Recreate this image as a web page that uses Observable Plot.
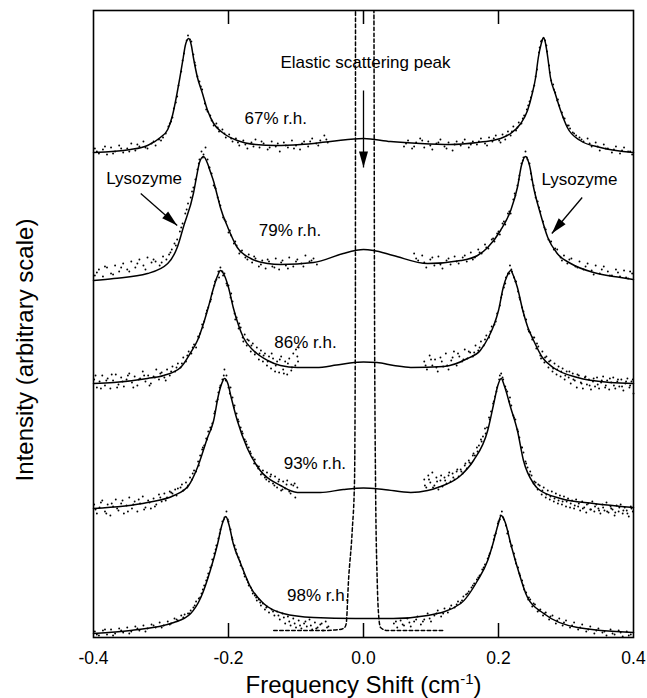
<!DOCTYPE html>
<html><head><meta charset="utf-8">
<script src="https://cdn.jsdelivr.net/npm/d3@7"></script>
<script src="https://cdn.jsdelivr.net/npm/@observablehq/plot@0.6"></script>
<style>body{margin:0;background:#fff}</style>
</head><body><div id="chart"></div>
<script>
// ---- axis values ----
const xTicks = [-0.4, -0.2, 0, 0.2, 0.4];
const innerTicks = [-0.2, 0, 0.2];
const xDomain = [-0.4, 0.4];
const yDomain = [0, 627];

// ---- fitted curves [shift, intensity] ----
const fit67 = [[-0.400,485],[-0.345,488],[-0.320,492],[-0.301,500],[-0.290,508],[-0.283,522],[-0.276,545],[-0.272,560],[-0.267,580],[-0.264,592],[-0.259,599],[-0.255,592],[-0.252,580],[-0.246,560],[-0.239,545],[-0.231,527],[-0.222,514],[-0.209,505],[-0.187,497],[-0.160,493],[-0.130,492],[-0.093,493],[-0.049,496],[0,499],[0.040,496],[0.084,494],[0.129,493],[0.169,495],[0.190,497],[0.203,499],[0.218,504],[0.233,514],[0.243,527],[0.250,544],[0.255,560],[0.259,580],[0.263,593],[0.267,600],[0.270,593],[0.273,580],[0.277,560],[0.284,544],[0.292,527],[0.302,510],[0.321,497],[0.351,490],[0.400,485]];
const fit79 = [[-0.400,357],[-0.370,359],[-0.320,364],[-0.290,374],[-0.276,390],[-0.267,410],[-0.252,444],[-0.247,462],[-0.243,475],[-0.237,481],[-0.231,474],[-0.227,466],[-0.222,456],[-0.217,443],[-0.212,430],[-0.201,410],[-0.187,390],[-0.167,379],[-0.142,374],[-0.123,373],[-0.074,375],[-0.030,384],[-0.012,387],[0,388],[0.015,387],[0.044,382],[0.095,374],[0.144,377],[0.169,382],[0.184,390],[0.203,407],[0.218,427],[0.228,450],[0.234,472],[0.240,481],[0.246,472],[0.252,450],[0.262,424],[0.273,400],[0.287,384],[0.307,374],[0.341,365],[0.381,360],[0.400,358]];
const fit86 = [[-0.400,254],[-0.370,255],[-0.320,259],[-0.296,262],[-0.271,270],[-0.256,285],[-0.246,297],[-0.237,314],[-0.230,330],[-0.222,350],[-0.216,362],[-0.212,367],[-0.206,362],[-0.200,350],[-0.193,330],[-0.185,312],[-0.178,300],[-0.163,287],[-0.142,277],[-0.123,272],[-0.098,270],[-0.070,270],[-0.040,272.5],[-0.020,274.5],[0,275.5],[0.020,275],[0.045,272],[0.070,270],[0.119,271],[0.154,279],[0.173,287],[0.185,300],[0.193,312],[0.200,327],[0.207,350],[0.213,362],[0.218,367],[0.222,362],[0.228,350],[0.236,327],[0.243,311],[0.252,297],[0.265,280],[0.281,270],[0.317,260],[0.366,255],[0.400,254]];
const fit93 = [[-0.400,129],[-0.320,135],[-0.281,142],[-0.259,152],[-0.246,170],[-0.231,200],[-0.222,217],[-0.215,242],[-0.210,254],[-0.206,259],[-0.201,254],[-0.196,240],[-0.187,217],[-0.172,189],[-0.153,167],[-0.123,152],[-0.098,145],[-0.064,145],[-0.030,148],[0,149.5],[0.030,148],[0.070,145],[0.095,147],[0.110,150],[0.144,162],[0.163,177],[0.184,207],[0.193,234],[0.199,252],[0.204,259],[0.209,251],[0.218,230],[0.228,207],[0.237,177],[0.252,154],[0.258,149],[0.292,139],[0.341,134],[0.400,130]];
const fit98 = [[-0.400,4],[-0.345,7],[-0.281,15],[-0.256,24],[-0.241,40],[-0.227,67],[-0.216,94],[-0.210,112],[-0.204,121],[-0.199,112],[-0.193,94],[-0.182,74],[-0.167,50],[-0.148,34],[-0.119,24],[-0.074,20],[-0.012,19],[0,19],[0.044,19],[0.095,22],[0.144,34],[0.169,57],[0.184,77],[0.191,92],[0.199,112],[0.204,122],[0.210,115],[0.218,94],[0.228,70],[0.243,40],[0.267,24],[0.317,10],[0.400,5]];
const elastic = [[-0.133,7],[-0.10,7],[-0.06,7],[-0.035,8],[-0.028,10],[-0.0256,14],[-0.0222,57],[-0.0167,107],[-0.0133,157],[-0.0120,337],[-0.0118,640],[0.0153,640],[0.0163,337],[0.0178,157],[0.0203,57],[0.0227,20],[0.0252,10],[0.035,7],[0.08,7],[0.1185,7]];

// ---- measured points (flat: shift, intensity, ...) ----
const dots67 = [-0.398,489,-0.392,484,-0.386,488,-0.380,483,-0.374,490,-0.368,486,-0.362,492,-0.356,485,-0.350,489,-0.344,494,-0.338,487,-0.332,491,-0.326,496,-0.320,489,-0.314,494,-0.308,492,-0.303,498,-0.297,500,-0.293,504,-0.289,511,-0.285,516,-0.281,529,-0.278,535,-0.274,552,-0.270,566,-0.266,584,-0.262,597,-0.260,602,-0.257,598,-0.255,596,-0.252,583,-0.249,572,-0.246,561,-0.243,556,-0.239,548,-0.235,534,-0.231,526,-0.227,522,-0.222,512,-0.218,514,-0.214,506,-0.209,508,-0.204,500,-0.199,503,-0.194,496,-0.189,499,-0.184,492,-0.178,497,-0.172,489,-0.166,495,-0.160,498,-0.154,490,-0.148,494,-0.142,488,-0.136,496,-0.130,491,-0.124,486,-0.118,495,-0.112,490,-0.106,497,-0.100,492,-0.094,488,-0.088,496,-0.082,491,-0.076,499,-0.070,494,-0.064,497,-0.058,502,-0.053,495,
0.060,491,0.066,497,0.072,489,0.078,495,0.084,499,0.090,490,0.096,496,0.102,488,0.108,494,0.114,498,0.120,491,0.126,495,0.132,487,0.138,496,0.144,492,0.150,498,0.156,490,0.162,496,0.168,493,0.174,499,0.180,494,0.186,500,0.191,496,0.196,502,0.201,497,0.206,503,0.210,498,0.214,506,0.218,502,0.222,511,0.226,507,0.230,515,0.234,514,0.238,522,0.242,528,0.246,536,0.250,546,0.253,552,0.257,568,0.260,585,0.263,596,0.266,599,0.269,597,0.272,586,0.275,572,0.278,557,0.281,553,0.284,545,0.287,537,0.290,532,0.294,525,0.298,519,0.302,512,0.306,509,0.310,505,0.315,502,0.320,500,0.326,496,0.332,499,0.338,491,0.344,495,0.350,487,0.356,493,0.362,489,0.368,485,0.374,491,0.380,484,0.386,490,0.392,486,0.398,483];
const dots67b = [-0.395,486,-0.383,491,-0.371,484,-0.359,489,-0.347,486,-0.335,493,-0.323,490,-0.311,496,-0.300,497,-0.287,514,-0.283,520,-0.276,541,-0.268,577,-0.250,575,-0.241,551,-0.233,528,-0.225,517,-0.216,510,-0.206,504,-0.196,499,-0.186,495,-0.175,493,-0.163,491,-0.151,496,-0.139,490,-0.127,494,-0.115,492,-0.103,489,-0.091,494,-0.079,496,-0.067,492,-0.055,498,
0.063,494,0.075,491,0.087,497,0.099,492,0.111,495,0.123,489,0.135,493,0.147,495,0.159,493,0.171,496,0.183,492,0.193,499,0.203,495,0.212,502,0.220,506,0.228,510,0.236,519,0.244,532,0.248,540,0.255,561,0.261,590,0.264,597,0.271,592,0.276,565,0.282,548,0.288,538,0.296,520,0.304,512,0.312,504,0.323,498,0.335,494,0.347,491,0.359,489,0.371,488,0.383,487,0.395,486];
const dots79 = [-0.398,362,-0.392,368,-0.386,361,-0.380,370,-0.374,364,-0.368,372,-0.362,366,-0.356,374,-0.350,368,-0.344,376,-0.338,370,-0.332,378,-0.326,372,-0.320,380,-0.314,375,-0.308,376,-0.302,372,-0.297,381,-0.292,378,-0.288,383,-0.284,388,-0.280,394,-0.276,398,-0.272,406,-0.268,414,-0.264,424,-0.260,434,-0.256,440,-0.252,450,-0.249,458,-0.246,468,-0.243,478,-0.240,486,-0.237,483,-0.234,490,-0.231,478,-0.228,470,-0.225,464,-0.222,452,-0.219,449,-0.216,440,-0.212,432,-0.208,420,-0.204,416,-0.200,405,-0.196,402,-0.192,394,-0.188,392,-0.184,384,-0.180,387,-0.175,380,-0.170,383,-0.165,375,-0.160,379,-0.155,371,-0.150,377,-0.145,369,-0.140,376,-0.135,371,-0.130,379,-0.125,368,-0.120,377,-0.115,372,-0.110,380,-0.104,371,-0.098,378,-0.092,374,-0.086,382,-0.080,376,-0.074,379,-0.069,373,
0.075,384,0.081,377,0.087,382,0.093,370,0.099,378,0.105,372,0.111,381,0.117,369,0.123,377,0.129,373,0.135,381,0.141,374,0.147,380,0.153,376,0.159,385,0.165,380,0.170,388,0.175,384,0.180,393,0.185,389,0.190,398,0.194,396,0.198,404,0.202,403,0.206,414,0.210,413,0.214,424,0.218,424,0.222,438,0.225,442,0.228,452,0.231,462,0.234,474,0.237,480,0.240,486,0.243,478,0.246,474,0.249,458,0.252,452,0.255,440,0.258,436,0.262,426,0.266,416,0.270,408,0.274,398,0.278,396,0.282,388,0.287,388,0.292,380,0.297,382,0.302,374,0.308,379,0.314,371,0.320,376,0.326,368,0.332,374,0.338,367,0.344,372,0.350,364,0.356,371,0.362,366,0.368,362,0.374,368,0.380,361,0.386,367,0.392,359,0.398,364];
const dots79b = [-0.395,365,-0.383,371,-0.371,363,-0.359,370,-0.347,366,-0.335,374,-0.323,368,-0.311,378,-0.299,375,-0.286,385,-0.278,392,-0.270,410,-0.262,428,-0.254,446,-0.244,474,-0.238,480,-0.229,470,-0.220,450,-0.214,436,-0.206,418,-0.198,407,-0.190,396,-0.182,386,-0.172,378,-0.162,381,-0.152,373,-0.142,378,-0.132,370,-0.122,375,-0.112,369,-0.100,376,-0.089,371,-0.077,377,
0.078,379,0.090,375,0.102,380,0.114,373,0.126,379,0.138,376,0.150,382,0.162,378,0.172,385,0.182,390,0.192,399,0.200,406,0.208,416,0.216,426,0.224,444,0.230,458,0.236,477,0.242,480,0.248,464,0.254,445,0.260,430,0.268,410,0.276,396,0.284,389,0.294,377,0.305,378,0.317,370,0.329,371,0.341,363,0.353,368,0.365,362,0.377,365,0.389,360,0.395,366];
const dots86 = [-0.399,258,-0.395,250,-0.391,256,-0.387,262,-0.383,252,-0.379,259,-0.375,249,-0.371,257,-0.367,263,-0.363,253,-0.359,260,-0.355,251,-0.351,258,-0.347,264,-0.343,255,-0.339,261,-0.335,252,-0.331,259,-0.327,266,-0.323,256,-0.319,262,-0.315,254,-0.311,261,-0.307,268,-0.303,258,-0.299,265,-0.295,260,-0.291,268,-0.287,262,-0.283,271,-0.279,266,-0.275,274,-0.271,270,-0.267,280,-0.263,276,-0.259,286,-0.255,284,-0.251,293,-0.248,290,-0.245,301,-0.242,304,-0.239,313,-0.236,316,-0.233,324,-0.230,330,-0.227,336,-0.224,344,-0.221,352,-0.218,358,-0.215,366,-0.212,370,-0.209,366,-0.206,364,-0.203,354,-0.200,352,-0.197,340,-0.194,336,-0.191,324,-0.188,320,-0.185,309,-0.182,310,-0.179,300,-0.176,303,-0.173,292,-0.170,297,-0.167,286,-0.164,294,-0.161,283,-0.158,290,-0.155,278,-0.152,287,-0.149,276,-0.146,284,-0.143,272,-0.140,281,-0.137,269,-0.134,279,-0.131,266,-0.128,276,-0.125,265,-0.122,281,-0.119,268,-0.116,276,-0.113,263,-0.110,279,-0.107,267,-0.104,284,-0.101,272,-0.098,281,-0.096,290,
0.090,276,0.094,268,0.098,282,0.102,272,0.106,278,0.110,266,0.114,280,0.118,271,0.122,284,0.126,268,0.130,277,0.134,286,0.138,272,0.142,281,0.146,276,0.150,288,0.154,279,0.158,285,0.162,281,0.166,292,0.170,287,0.174,296,0.178,292,0.182,302,0.186,300,0.190,311,0.194,313,0.198,324,0.202,332,0.205,343,0.208,350,0.211,360,0.214,364,0.217,372,0.220,366,0.223,360,0.226,356,0.229,346,0.232,338,0.235,330,0.238,322,0.241,318,0.244,308,0.247,305,0.250,298,0.253,300,0.256,289,0.259,291,0.262,282,0.265,286,0.268,275,0.271,281,0.274,270,0.277,277,0.280,266,0.283,274,0.286,263,0.289,271,0.292,261,0.295,269,0.298,258,0.301,266,0.304,260,0.307,254,0.310,264,0.313,257,0.316,250,0.319,262,0.322,255,0.325,249,0.328,260,0.331,253,0.334,258,0.337,248,0.340,256,0.343,251,0.346,260,0.349,249,0.352,255,0.355,261,0.358,250,0.361,257,0.364,248,0.367,255,0.370,260,0.373,249,0.376,256,0.379,251,0.382,258,0.385,247,0.388,254,0.391,259,0.394,250,0.397,256,0.400,244];
const dots86b = [-0.397,262,-0.389,249,-0.381,257,-0.373,263,-0.365,250,-0.357,256,-0.349,262,-0.341,250,-0.333,258,-0.325,262,-0.317,252,-0.309,260,-0.301,264,-0.293,257,-0.285,266,-0.277,270,-0.269,274,-0.261,282,-0.253,290,-0.244,300,-0.238,310,-0.232,327,-0.226,338,-0.220,356,-0.214,360,-0.208,362,-0.202,352,-0.196,344,-0.190,318,-0.184,314,-0.178,296,-0.172,298,-0.166,292,-0.160,285,-0.154,284,-0.148,282,-0.142,276,-0.136,284,-0.130,272,-0.124,278,-0.118,264,-0.112,274,-0.106,270,-0.100,288,-0.097,276,
0.092,272,0.100,278,0.108,270,0.116,276,0.124,272,0.132,280,0.140,284,0.148,278,0.156,286,0.164,285,0.172,290,0.180,298,0.188,306,0.196,316,0.204,340,0.210,354,0.216,364,0.219,368,0.225,356,0.231,340,0.237,326,0.245,306,0.251,300,0.257,294,0.263,279,0.269,280,0.275,276,0.281,269,0.287,268,0.293,266,0.299,262,0.305,266,0.311,258,0.317,263,0.323,254,0.329,261,0.335,252,0.341,259,0.347,253,0.353,257,0.359,252,0.365,259,0.371,252,0.377,258,0.383,251,0.389,256,0.395,252,0.399,258];
const dots93 = [-0.399,133,-0.395,124,-0.391,130,-0.387,137,-0.383,126,-0.379,133,-0.375,122,-0.371,131,-0.367,138,-0.363,127,-0.359,134,-0.355,124,-0.351,132,-0.347,140,-0.343,129,-0.339,136,-0.335,126,-0.331,134,-0.327,141,-0.323,130,-0.319,137,-0.315,129,-0.311,139,-0.307,133,-0.303,143,-0.299,136,-0.295,144,-0.291,140,-0.287,146,-0.283,144,-0.279,148,-0.275,149,-0.271,150,-0.267,147,-0.263,155,-0.260,152,-0.257,160,-0.254,158,-0.251,167,-0.248,166,-0.245,176,-0.242,182,-0.239,188,-0.236,192,-0.233,199,-0.230,206,-0.227,210,-0.224,214,-0.221,224,-0.218,236,-0.215,245,-0.212,252,-0.209,258,-0.206,268,-0.203,262,-0.200,250,-0.197,250,-0.194,240,-0.191,232,-0.188,224,-0.185,216,-0.182,210,-0.179,204,-0.176,198,-0.173,193,-0.170,190,-0.167,184,-0.164,180,-0.161,178,-0.158,172,-0.155,171,-0.152,163,-0.149,167,-0.146,160,-0.143,165,-0.140,156,-0.137,163,-0.134,154,-0.131,161,-0.128,150,-0.125,158,-0.122,147,-0.119,156,-0.116,149,-0.113,157,-0.110,146,-0.107,153,-0.104,152,-0.101,140,-0.098,150,
0.090,158,0.093,150,0.096,162,0.099,155,0.102,165,0.105,152,0.108,160,0.111,148,0.114,157,0.117,151,0.120,160,0.123,154,0.126,162,0.129,156,0.132,164,0.135,158,0.138,166,0.141,161,0.144,168,0.147,164,0.150,172,0.153,169,0.156,177,0.159,174,0.162,182,0.165,182,0.168,190,0.171,192,0.174,198,0.177,201,0.180,209,0.183,210,0.186,220,0.189,226,0.192,234,0.195,241,0.198,250,0.201,258,0.204,264,0.207,258,0.210,251,0.213,246,0.216,236,0.219,232,0.222,222,0.225,218,0.228,208,0.231,200,0.234,190,0.237,185,0.240,176,0.243,170,0.246,163,0.249,162,0.252,154,0.255,155,0.258,148,0.261,152,0.264,143,0.267,150,0.270,140,0.273,147,0.276,138,0.279,146,0.282,136,0.285,144,0.288,134,0.291,142,0.294,133,0.297,141,0.300,131,0.303,139,0.306,130,0.309,137,0.312,129,0.315,138,0.318,131,0.321,127,0.324,136,0.327,130,0.330,125,0.333,134,0.336,128,0.339,136,0.342,126,0.345,133,0.348,129,0.351,124,0.354,133,0.357,127,0.360,135,0.363,125,0.366,131,0.369,128,0.372,122,0.375,132,0.378,126,0.381,133,0.384,124,0.387,130,0.390,127,0.393,121,0.396,131,0.399,126];
const dots93b = [-0.397,128,-0.389,135,-0.381,124,-0.373,134,-0.365,129,-0.357,137,-0.349,126,-0.341,133,-0.333,138,-0.325,128,-0.317,135,-0.309,131,-0.301,140,-0.293,137,-0.285,145,-0.277,142,-0.269,153,-0.261,150,-0.253,164,-0.244,172,-0.238,190,-0.232,198,-0.226,208,-0.220,226,-0.216,238,-0.213,250,-0.207,262,-0.204,257,-0.198,244,-0.192,230,-0.186,218,-0.180,206,-0.174,196,-0.168,186,-0.162,174,-0.156,169,-0.150,164,-0.144,158,-0.138,161,-0.132,152,-0.126,156,-0.120,148,-0.114,153,-0.108,144,-0.102,154,
0.091,152,0.097,158,0.103,150,0.109,156,0.115,162,0.121,157,0.127,165,0.133,160,0.139,168,0.145,166,0.151,174,0.157,175,0.163,184,0.169,186,0.175,196,0.181,204,0.187,218,0.193,236,0.197,246,0.202,262,0.206,260,0.211,248,0.217,240,0.223,220,0.229,206,0.235,190,0.241,174,0.247,166,0.253,156,0.259,153,0.265,147,0.271,143,0.277,141,0.283,139,0.289,137,0.295,136,0.301,136,0.307,134,0.313,132,0.319,134,0.325,129,0.331,133,0.337,128,0.343,131,0.349,127,0.355,130,0.361,126,0.367,129,0.373,125,0.379,130,0.385,127,0.391,124,0.397,129];
const dots98 = [-0.398,6,-0.392,2,-0.386,7,-0.380,3,-0.374,8,-0.368,4,-0.362,9,-0.356,5,-0.350,10,-0.344,6,-0.338,11,-0.332,7,-0.326,12,-0.320,9,-0.314,13,-0.308,10,-0.302,15,-0.296,12,-0.290,16,-0.285,14,-0.280,19,-0.275,17,-0.270,22,-0.265,23,-0.260,24,-0.256,27,-0.252,30,-0.248,36,-0.244,39,-0.240,44,-0.236,52,-0.233,57,-0.230,64,-0.227,70,-0.224,78,-0.221,84,-0.218,92,-0.215,99,-0.212,108,-0.209,116,-0.206,120,-0.203,126,-0.200,116,-0.197,108,-0.194,98,-0.191,92,-0.188,84,-0.185,80,-0.182,72,-0.179,69,-0.176,61,-0.173,58,-0.170,52,-0.167,50,-0.164,44,-0.161,42,-0.158,37,-0.155,38,-0.152,32,-0.149,34,-0.146,28,-0.143,31,-0.140,25,-0.136,28,-0.132,22,-0.128,26,-0.124,18,-0.120,24,-0.116,14,-0.112,21,-0.108,12,-0.104,19,-0.100,10,-0.096,17,-0.092,9,-0.088,14,-0.084,11,-0.080,18,-0.076,8,-0.072,15,-0.068,10,-0.064,13,-0.060,7,-0.056,16,-0.052,11,
0.045,14,0.050,10,0.055,17,0.060,12,0.065,19,0.070,11,0.075,16,0.080,21,0.085,13,0.090,18,0.095,24,0.100,16,0.105,22,0.110,27,0.115,21,0.120,29,0.125,25,0.130,32,0.135,30,0.140,36,0.144,35,0.148,41,0.152,43,0.156,46,0.160,50,0.164,54,0.168,58,0.172,62,0.176,68,0.180,73,0.184,79,0.187,84,0.190,90,0.193,98,0.196,104,0.199,114,0.202,118,0.205,126,0.208,118,0.211,112,0.214,106,0.217,96,0.220,92,0.223,84,0.226,74,0.229,70,0.232,62,0.235,57,0.238,48,0.241,45,0.244,38,0.247,38,0.250,31,0.254,33,0.258,26,0.262,28,0.266,22,0.270,25,0.275,18,0.280,22,0.285,14,0.290,19,0.295,12,0.300,17,0.306,10,0.312,15,0.318,8,0.324,13,0.330,6,0.336,11,0.342,4,0.348,9,0.354,5,0.360,2,0.366,8,0.372,3,0.378,7,0.384,1,0.390,6,0.396,3];
const dots98b = [-0.395,3,-0.383,8,-0.371,2,-0.359,7,-0.347,4,-0.335,9,-0.323,6,-0.311,12,-0.299,10,-0.287,13,-0.277,18,-0.267,20,-0.258,24,-0.250,32,-0.242,40,-0.238,48,-0.231,60,-0.225,72,-0.219,88,-0.213,104,-0.207,118,-0.201,118,-0.195,100,-0.189,88,-0.183,76,-0.177,64,-0.171,55,-0.165,47,-0.159,40,-0.153,35,-0.144,30,-0.134,26,-0.126,22,-0.118,20,-0.110,16,-0.102,14,-0.094,12,-0.086,16,-0.078,12,-0.070,9,-0.062,14,-0.054,10,
0.048,16,0.058,13,0.068,15,0.078,18,0.088,16,0.098,19,0.108,24,0.118,24,0.128,29,0.138,33,0.146,37,0.154,44,0.162,52,0.170,60,0.178,70,0.186,82,0.194,102,0.200,116,0.203,122,0.207,120,0.213,104,0.219,91,0.225,78,0.231,64,0.237,52,0.245,40,0.252,34,0.260,27,0.268,24,0.277,21,0.287,17,0.297,15,0.309,12,0.321,10,0.333,8,0.345,7,0.357,6,0.369,4,0.381,5,0.393,2];

// ---- annotations ----
const labelText = ["67% r.h.", "79% r.h.", "86% r.h.", "93% r.h.", "98% r.h.", "Elastic scattering peak", "Lysozyme", "Lysozyme"];
const labelX = [-0.130, -0.109, -0.086, -0.072, -0.067, 0.003, -0.325, 0.320];
const labelY = [519, 407, 295, 174, 42, 575, 459, 458];
const arrowX1 = [0, -0.330, 0.324];
const arrowY1 = [547, 444, 440];
const arrowX2 = [0, -0.276, 0.279];
const arrowY2 = [470, 412, 404];
const xTitleMain = "Frequency Shift (cm", xTitleSup = "-1", xTitleEnd = ")";
const yTitle = "Intensity (arbitrary scale)";

// ---- build ----
const W = 647, H = 698, mL = 93, mR = 14, mT = 10, mB = 61;
const kx = (W - mL - mR) / (xDomain[1] - xDomain[0]);
const ky = (H - mT - mB) / (yDomain[1] - yDomain[0]);
const pairs = a => d3.range(0, a.length, 2).map(i => ({x: a[i], y: a[i + 1]}));
const allDots = [dots67, dots67b, dots79, dots79b, dots86, dots86b, dots93, dots93b, dots98, dots98b].flatMap(pairs);
const fits = [fit67, fit79, fit86, fit93, fit98];
const labels = labelText.map((t, i) => ({t, x: labelX[i], y: labelY[i]}));
const arrows = arrowX1.map((x1, i) => {
  const dx = (arrowX2[i] - x1) * kx, dy = -(arrowY2[i] - arrowY1[i]) * ky;
  return {x1, y1: arrowY1[i], x2: arrowX2[i], y2: arrowY2[i], angle: Math.atan2(dx, -dy) * 180 / Math.PI};
});
const head = {draw(ctx) { ctx.moveTo(0, 0); ctx.lineTo(-4.5, 16); ctx.lineTo(4.5, 16); ctx.closePath(); }};
const font = "'Liberation Sans', Arial, Helvetica, sans-serif";

const plot = Plot.plot({
  width: W, height: H,
  marginLeft: mL, marginRight: mR, marginTop: mT, marginBottom: mB,
  style: {fontFamily: font, background: "white", color: "black"},
  x: {domain: xDomain},
  y: {domain: yDomain, axis: null},
  marks: [
    Plot.line(elastic, {x: d => d[0], y: d => d[1], stroke: "black", strokeWidth: 1.5, strokeDasharray: "3.5,2.5", curve: "monotone-x", clip: true}),
    ...fits.map(f => Plot.line(f, {x: d => d[0], y: d => d[1], stroke: "black", strokeWidth: 1.5, curve: "monotone-x"})),
    Plot.dot(allDots, {x: "x", y: "y", r: 0.95, fill: "black", stroke: null}),
    Plot.ruleX(innerTicks, {stroke: "black", strokeWidth: 1.5, insetTop: H - mT - mB - 14}),
    Plot.ruleX(innerTicks, {stroke: "black", strokeWidth: 1.5, insetBottom: H - mT - mB - 14}),
    Plot.frame({stroke: "black", strokeWidth: 1.6}),
    Plot.text(labels, {x: "x", y: "y", text: "t", fontSize: 17, fill: "black", lineAnchor: "middle"}),
    Plot.link(arrows, {x1: "x1", y1: "y1", x2: "x2", y2: "y2", stroke: "black", strokeWidth: 1.3}),
    Plot.dot(arrows, {x: "x2", y: "y2", rotate: "angle", symbol: head, fill: "black", stroke: null, r: 5}),
    Plot.axisX(xTicks, {tickSize: 0, tickPadding: 14, tickFormat: d => d.toFixed(1), fontSize: 17.5, label: null, fill: "black"}),
    Plot.text([xTitleMain + xTitleSup + xTitleEnd], {frameAnchor: "bottom", dy: 48, fontSize: 24, fill: "black", textAnchor: "middle", lineAnchor: "middle"}),
    Plot.text([yTitle], {frameAnchor: "left", dx: -68, dy: 26, rotate: -90, fontSize: 24, fill: "black", textAnchor: "middle", lineAnchor: "middle"})
  ]
});

// superscript for the unit
d3.select(plot).selectAll("text").filter(function () { return this.textContent === xTitleMain + xTitleSup + xTitleEnd; })
  .each(function () {
    const t = d3.select(this);
    t.text(null);
    t.append("tspan").text(xTitleMain);
    t.append("tspan").attr("dy", "-0.6em").attr("font-size", "0.62em").text(xTitleSup);
    t.append("tspan").attr("dy", "0.37em").text(xTitleEnd);
  });

document.getElementById("chart").appendChild(plot);
</script>
</body></html>
